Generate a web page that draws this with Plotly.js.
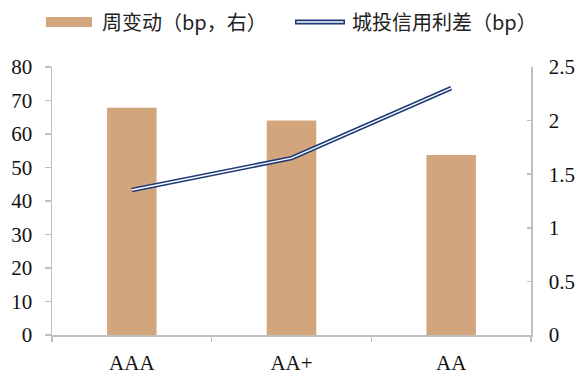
<!DOCTYPE html>
<html><head><meta charset="utf-8">
<script src="https://cdn.plot.ly/plotly-3.0.1.min.js"></script>
<style>html,body{margin:0;padding:0;background:#fff;}</style>
</head><body>
<div id="chart" style="width:588px;height:381px;"></div>
<script>
const categories = ["AAA", "AA+", "AA"];
const weeklyChange = [2.12, 2.0, 1.68];      // 周变动 (bp, 右)
const creditSpread = [43.3, 52.8, 73.7];     // 城投信用利差 (bp)
const leftTicks = [0, 10, 20, 30, 40, 50, 60, 70, 80];
const rightTicks = [0, 0.5, 1, 1.5, 2, 2.5];
const rightTickText = ["0", "0.5", "1", "1.5", "2", "2.5"];

const barColor = "#D2A57C";
const navy = "#1F3A7A";
const axisColor = "#BFBFBF";
const serif = "Times New Roman, Liberation Serif, serif";
const cjk = "Noto Sans CJK SC";
const tf = () => ({family: serif, size: 21, color: "#111"});

const L = 52, R = 531, T = 67, B = 335;
const px = x => (x - L) / (R - L);
const py = y => (B - y) / (B - T);

// bars on the right-side axis (y), line on the left-side axis (y2, drawn on top)
const traces = [
  {type: "bar", x: categories, y: weeklyChange, yaxis: "y", width: 0.31,
   marker: {color: barColor}, showlegend: false, hoverinfo: "skip"},
  {type: "scatter", mode: "lines", x: categories, y: creditSpread, yaxis: "y2",
   line: {color: navy, width: 4.5}, showlegend: false, hoverinfo: "skip"},
  {type: "scatter", mode: "lines", x: categories, y: creditSpread, yaxis: "y2",
   line: {color: "#FFFFFF", width: 1.4}, showlegend: false, hoverinfo: "skip"}
];

const legY = 22;
const layout = {
  width: 588, height: 381,
  margin: {l: L, r: 588 - R, t: T, b: 381 - B},
  paper_bgcolor: "#fff", plot_bgcolor: "#fff",
  showlegend: false,
  xaxis: {type: "category", range: [-0.5, 2.5], showline: true, linecolor: axisColor, linewidth: 1.5,
          ticks: "outside", tickson: "boundaries", ticklen: 5, tickcolor: axisColor, tickwidth: 1.5,
          ticklabelstandoff: 8,
          showgrid: false, zeroline: false, tickfont: tf()},
  yaxis: {range: [0, 2.5], tickvals: rightTicks, ticktext: rightTickText, side: "right",
          showline: true, linecolor: axisColor, linewidth: 1.5,
          ticks: "inside", ticklen: 4, tickcolor: axisColor, tickwidth: 1.5,
          ticklabelstandoff: 12,
          showgrid: false, zeroline: false, tickfont: tf()},
  yaxis2: {range: [0, 80], tickvals: leftTicks, overlaying: "y", side: "left",
           showline: true, linecolor: axisColor, linewidth: 1.5,
           ticks: "outside", ticklen: 6, tickcolor: axisColor, tickwidth: 1.5,
           ticklabelstandoff: 8,
           showgrid: false, zeroline: false, tickfont: tf()},
  shapes: [
    {type: "rect", xref: "paper", yref: "paper", x0: px(46), x1: px(92), y0: py(legY + 5), y1: py(legY - 5),
     fillcolor: barColor, line: {width: 0}},
    {type: "line", xref: "paper", yref: "paper", x0: px(295), x1: px(345), y0: py(legY), y1: py(legY),
     line: {color: navy, width: 5}},
    {type: "line", xref: "paper", yref: "paper", x0: px(296.5), x1: px(343.5), y0: py(legY), y1: py(legY),
     line: {color: "#FFFFFF", width: 1.5}}
  ],
  annotations: [
    {xref: "paper", yref: "paper", x: px(100), y: py(legY), xanchor: "left", yanchor: "middle",
     text: "周变动（bp，右）", showarrow: false, font: {family: cjk, size: 20, color: "#222"}},
    {xref: "paper", yref: "paper", x: px(350), y: py(legY), xanchor: "left", yanchor: "middle",
     text: "城投信用利差（bp）", showarrow: false, font: {family: cjk, size: 20, color: "#222"}}
  ]
};

Plotly.newPlot("chart", traces, layout, {staticPlot: true, displayModeBar: false});
</script>
</body></html>
